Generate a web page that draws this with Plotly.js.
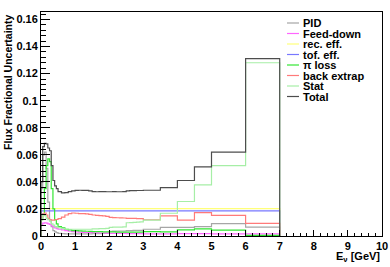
<!DOCTYPE html>
<html>
<head>
<meta charset="utf-8">
<script src="https://cdn.plot.ly/plotly-3.0.1.min.js"></script>
<style>html,body{margin:0;padding:0;background:#fff;}#chart{width:390px;height:267px;}</style>
</head>
<body>
<div id="chart"></div>
<script>
// Bin edges (GeV) of the fine-binned histograms
const edges = [0,0.05,0.1,0.15,0.2,0.25,0.3,0.35,0.4,0.45,0.5,0.6,0.7,0.8,0.9,1.0,1.1,1.2,1.3,1.4,1.5,1.6,1.7,1.8,1.9,2.0,2.1,2.2,2.3,2.4,2.5,2.6,2.7,2.8,2.9,3.0,3.5,4.0,4.5,5.0,6.0,7.0];
const flatEdges = [0, 7];

const seriesNames = ["PID", "Feed-down", "rec. eff.", "tof. eff.", "\u03c0 loss", "back extrap", "Stat", "Total"];

const pid = [0.035,0.060,0.062,0.050,0.025,0.012,0.007,0.004,0.003,0.0025,
  0.0020,0.0018,0.0016,0.0015,0.0015,
  0.0015,0.0015,0.0016,0.0016,0.0016,
  0.0017,0.0018,0.0018,0.0019,0.0020,
  0.0035,0.0036,0.0036,0.0037,0.0037,
  0.0040,0.0040,0.0041,0.0041,0.0042,
  0.0050,0.0064,0.0064,0.0069,0.0092,0.0065];
const feedDown = [0.0080,0.0095,0.0098,0.0095,0.0090,0.0085,0.0075,0.0068,0.0060,0.0055,
  0.0050,0.0045,0.0040,0.0035,0.0032,
  0.0030,0.0028,0.0027,0.0026,0.0025,
  0.0024,0.0023,0.0022,0.0022,0.0021,
  0.0020,0.0020,0.0020,0.0019,0.0019,
  0.0018,0.0018,0.0018,0.0017,0.0017,
  0.0016,0.0016,0.0017,0.0017,0.0016,0.0015];
const recEff = [0.0202];
const tofEff = [0.0185];
const piLoss = [0.012,0.016,0.035,0.052,0.057,0.055,0.035,0.020,0.012,0.009,
  0.0070,0.0060,0.0050,0.0045,0.0040,
  0.0040,0.0038,0.0036,0.0035,0.0034,
  0.0033,0.0032,0.0032,0.0031,0.0030,
  0.0030,0.0030,0.0029,0.0029,0.0028,
  0.0028,0.0028,0.0028,0.0028,0.0028,
  0.0032,0.0030,0.0045,0.0052,0.0044,0.0005];
const backExtrap = [0.0140,0.0165,0.0170,0.0155,0.0130,0.0120,0.0118,0.0118,0.0120,0.0122,
  0.0128,0.0140,0.0155,0.0165,0.0170,
  0.0168,0.0165,0.0165,0.0163,0.0160,
  0.0155,0.0152,0.0150,0.0148,0.0145,
  0.0138,0.0136,0.0135,0.0134,0.0133,
  0.0130,0.0130,0.0130,0.0128,0.0128,
  0.0120,0.0148,0.0118,0.0172,0.0152,0.0094];
const stat = [0.012,0.016,0.015,0.013,0.012,0.011,0.009,0.008,0.007,0.0065,
  0.0060,0.0055,0.0050,0.0050,0.0050,
  0.0050,0.0050,0.0050,0.0050,0.0050,
  0.0052,0.0053,0.0054,0.0055,0.0056,
  0.0064,0.0065,0.0066,0.0066,0.0067,
  0.0098,0.0099,0.0100,0.0102,0.0104,
  0.0118,0.0168,0.0255,0.0377,0.0520,0.128];
const total = [0.040,0.066,0.0685,0.068,0.065,0.063,0.052,0.041,0.037,0.035,
  0.0328,0.0318,0.0320,0.0328,0.0334,
  0.0337,0.0338,0.0337,0.0337,0.0334,
  0.0328,0.0327,0.0328,0.0328,0.0327,
  0.0327,0.0328,0.0327,0.0327,0.0328,
  0.0334,0.0335,0.0335,0.0336,0.0336,
  0.0338,0.0358,0.041,0.051,0.062,0.131];

const yTickVals = [0,0.02,0.04,0.06,0.08,0.1,0.12,0.14,0.16];
const yTickText = ["0","0.02","0.04","0.06","0.08","0.1","0.12","0.14","0.16"];

const seriesData = [
  {v: pid, e: edges, c: "#a6a6a6"},
  {v: feedDown, e: edges, c: "#ff66ff"},
  {v: recEff, e: flatEdges, c: "#ffff7a"},
  {v: tofEff, e: flatEdges, c: "#7878ff"},
  {v: piLoss, e: edges, c: "#33e633"},
  {v: backExtrap, e: edges, c: "#ff7a7a"},
  {v: stat, e: edges, c: "#a6eea6"},
  {v: total, e: edges, c: "#4d4d4d"}
];

function stepHist(e, v) {
  const x = [e[0]], y = [0];
  for (let i = 0; i < v.length; i++) { x.push(e[i]); y.push(v[i]); }
  x.push(e[e.length - 1]); y.push(0);
  return {x, y};
}

const font = "Liberation Sans, Arial, Helvetica, sans-serif";
const traces = seriesData.map((s, i) => {
  const h = stepHist(s.e, s.v);
  return {x: h.x, y: h.y, type: "scatter", mode: "lines", name: seriesNames[i],
    line: {shape: "hv", color: s.c, width: 1.2}, hoverinfo: "skip", showlegend: false};
});

// custom compact legend (ROOT-like)
const L = 41, R = 382, T = 12, B = 236;
const shapes = [], annotations = [];
seriesNames.forEach((n, i) => {
  const yp = 23 + 10.5 * i;
  const yy = (B - yp) / (B - T);
  shapes.push({type: "line", xref: "paper", yref: "paper",
    x0: (287 - L) / (R - L), x1: (299 - L) / (R - L), y0: yy, y1: yy,
    line: {color: seriesData[i].c, width: 1.2}});
  annotations.push({xref: "paper", yref: "paper", x: (301 - L) / (R - L), y: yy,
    xanchor: "left", yanchor: "middle", showarrow: false, text: n,
    font: {family: font, size: 11, weight: "bold", color: "#000"}});
});
annotations.push({xref: "paper", yref: "paper", x: 1, y: (B - 257) / (B - T),
  xanchor: "right", yanchor: "middle", showarrow: false,
  text: "E<sub>\u03bd</sub> [GeV]", font: {family: font, size: 11, weight: "bold", color: "#000"}});
annotations.push({xref: "paper", yref: "paper", x: (8 - L) / (R - L), y: 1,
  xanchor: "center", yanchor: "top", showarrow: false, textangle: -90,
  text: "Flux Fractional Uncertainty", font: {family: font, size: 10.5, weight: "bold", color: "#000"}});

const layout = {
  width: 390, height: 267,
  margin: {l: L, r: 390 - R, t: T, b: 267 - B, pad: 0},
  paper_bgcolor: "#fff", plot_bgcolor: "#fff",
  showlegend: false,
  xaxis: {range: [0, 10], dtick: 1, tick0: 0, ticks: "inside", ticklen: 6, tickcolor: "#000",
    minor: {dtick: 0.2, ticks: "inside", ticklen: 3, tickcolor: "#000", showgrid: false},
    showline: true, mirror: true, linecolor: "#000", linewidth: 1, showgrid: false, zeroline: false,
    tickfont: {family: font, size: 11, weight: "bold", color: "#000"}},
  yaxis: {range: [0, 0.1655], tickvals: yTickVals, ticktext: yTickText, ticks: "inside", ticklen: 9, tickcolor: "#000",
    minor: {dtick: 0.004, ticks: "inside", ticklen: 4.5, tickcolor: "#000", showgrid: false},
    showline: true, mirror: true, linecolor: "#000", linewidth: 1, showgrid: false, zeroline: false,
    tickfont: {family: font, size: 11, weight: "bold", color: "#000"}},
  shapes: shapes, annotations: annotations
};

Plotly.newPlot("chart", traces, layout, {staticPlot: true, displayModeBar: false});
</script>
</body>
</html>
